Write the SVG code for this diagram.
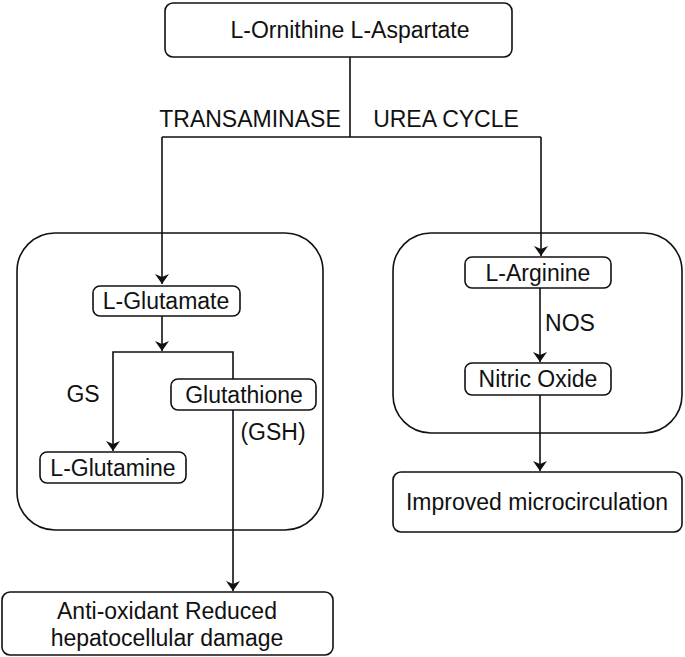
<svg xmlns="http://www.w3.org/2000/svg" width="685" height="657" viewBox="0 0 685 657">
<style>
rect{fill:#fff;stroke:#111;stroke-width:1.6}
text{font-family:"Liberation Sans",Arial,sans-serif;font-size:23px;fill:#111;text-anchor:middle}
.c{fill:none;stroke:#111;stroke-width:1.6}
</style>
<defs><marker id="a" viewBox="0 0 10 14" refX="10" refY="7" markerWidth="10" markerHeight="14" markerUnits="userSpaceOnUse" orient="auto"><path d="M0,0 L10,7 L0,14 L3,7 Z" fill="#111"/></marker></defs>
<g id="leftContainer"><rect x="17" y="233" width="306" height="297" rx="38"/></g>
<g id="rightContainer"><rect x="393" y="233" width="289" height="200" rx="38"/></g>
<g id="connectors">
<path class="c" d="M350,57 V137 M162,137 H541"/>
<path class="c" d="M162,137 V284" marker-end="url(#a)"/>
<path class="c" d="M541,137 V256" marker-end="url(#a)"/>
<path class="c" d="M162,316 V351" marker-end="url(#a)"/>
<path class="c" d="M233,379 V352 H113 V451" marker-end="url(#a)"/>
<path class="c" d="M233,410 V591" marker-end="url(#a)"/>
<path class="c" d="M540,288 V362" marker-end="url(#a)"/>
<path class="c" d="M540,395 V471" marker-end="url(#a)"/>
</g>
<g id="labels">
<text x="250" y="127">TRANSAMINASE</text>
<text x="446" y="127">UREA CYCLE</text>
<text x="83" y="402">GS</text>
<text x="273" y="440">(GSH)</text>
<text x="570" y="331">NOS</text>
</g>
<g id="top"><rect x="165" y="3" width="347" height="54" rx="8"/><text x="350" y="38">L-Ornithine L-Aspartate</text></g>
<g id="glutamate"><rect x="93" y="286" width="147" height="30" rx="7"/><text x="166" y="309">L-Glutamate</text></g>
<g id="glutathione"><rect x="171" y="379" width="145" height="31" rx="7"/><text x="244" y="403">Glutathione</text></g>
<g id="glutamine"><rect x="40" y="452" width="146" height="31" rx="7"/><text x="113" y="476">L-Glutamine</text></g>
<g id="antioxidant"><rect x="2" y="592" width="331" height="63" rx="8"/><text x="167" y="619">Anti-oxidant Reduced</text><text x="167" y="646">hepatocellular damage</text></g>
<g id="arginine"><rect x="465" y="257" width="146" height="31" rx="7"/><text x="538" y="281">L-Arginine</text></g>
<g id="nitric"><rect x="465" y="363" width="146" height="32" rx="7"/><text x="538" y="387">Nitric Oxide</text></g>
<g id="improved"><rect x="393" y="472" width="289" height="60" rx="8"/><text x="537" y="510">Improved microcirculation</text></g>
</svg>
